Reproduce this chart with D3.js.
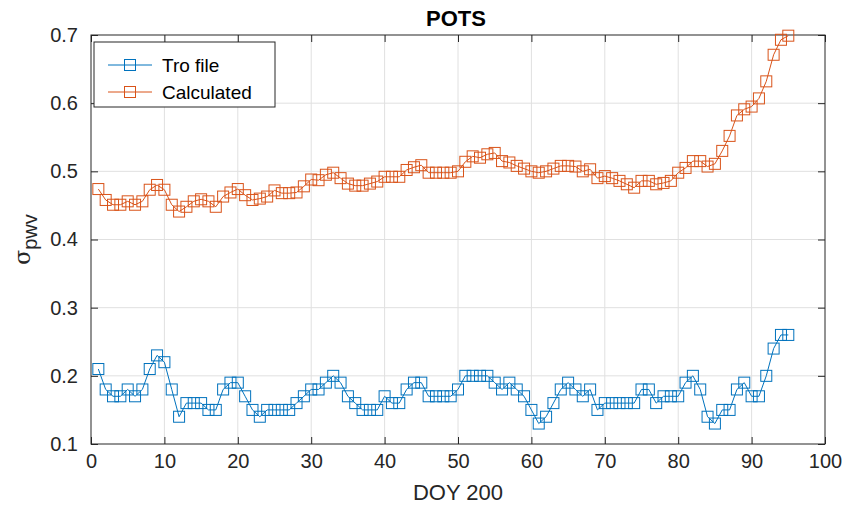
<!DOCTYPE html>
<html>
<head>
<meta charset="utf-8">
<script src="https://cdn.jsdelivr.net/npm/d3@7"></script>
<style>
  body { margin: 0; background: #fff; }
  svg { font-family: "Liberation Sans", Arial, sans-serif; }
</style>
</head>
<body>
<svg id="chart" width="854" height="505"></svg>
<script>
// day index along DOY 200
const days = d3.range(1, 96);

const troFile = [
  0.21, 0.18, 0.17, 0.17, 0.18, 0.17, 0.18, 0.21, 0.23, 0.22,
  0.18, 0.14, 0.16, 0.16, 0.16, 0.15, 0.15, 0.18, 0.19, 0.19,
  0.17, 0.15, 0.14, 0.15, 0.15, 0.15, 0.15, 0.16, 0.17, 0.18,
  0.18, 0.19, 0.20, 0.19, 0.17, 0.16, 0.15, 0.15, 0.15, 0.17,
  0.16, 0.16, 0.18, 0.19, 0.19, 0.17, 0.17, 0.17, 0.17, 0.18,
  0.20, 0.20, 0.20, 0.20, 0.19, 0.18, 0.19, 0.18, 0.17, 0.15,
  0.13, 0.14, 0.16, 0.18, 0.19, 0.18, 0.17, 0.18, 0.15, 0.16,
  0.16, 0.16, 0.16, 0.16, 0.18, 0.18, 0.16, 0.17, 0.17, 0.17,
  0.19, 0.20, 0.18, 0.14, 0.13, 0.15, 0.15, 0.18, 0.19, 0.17,
  0.17, 0.20, 0.24, 0.26, 0.26
];

const calculated = [
  0.474, 0.458, 0.451, 0.451, 0.456, 0.451, 0.456, 0.473, 0.480, 0.473,
  0.451, 0.441, 0.448, 0.456, 0.459, 0.456, 0.448, 0.463, 0.469, 0.474,
  0.465, 0.458, 0.460, 0.463, 0.472, 0.468, 0.468, 0.469, 0.478, 0.488,
  0.487, 0.495, 0.498, 0.490, 0.482, 0.479, 0.479, 0.482, 0.485, 0.492,
  0.492, 0.492, 0.502, 0.506, 0.509, 0.498, 0.498, 0.498, 0.498, 0.500,
  0.514, 0.522, 0.520, 0.525, 0.527, 0.515, 0.513, 0.508, 0.504, 0.500,
  0.498, 0.500, 0.504, 0.508, 0.508, 0.507, 0.500, 0.503, 0.490, 0.493,
  0.490, 0.486, 0.481, 0.476, 0.486, 0.486, 0.481, 0.483, 0.486, 0.498,
  0.505, 0.515, 0.515, 0.507, 0.511, 0.530, 0.552, 0.582, 0.591, 0.595,
  0.607, 0.632, 0.671, 0.693, 0.699
];

const xTicks = d3.range(0, 101, 10);
const yTicks = [0.1, 0.2, 0.3, 0.4, 0.5, 0.6, 0.7];

const seriesNames = ["Tro file", "Calculated"];
const seriesColors = ["#0072BD", "#D95319"];

const margin = {top: 35, right: 29, bottom: 61, left: 91};
const svg = d3.select("#chart");
const width = +svg.attr("width") - margin.left - margin.right;
const height = +svg.attr("height") - margin.top - margin.bottom;

const x = d3.scaleLinear().domain([0, 100]).range([0, width]);
const y = d3.scaleLinear().domain([0.1, 0.7]).range([height, 0]);

const g = svg.append("g").attr("transform", "translate(" + margin.left + "," + margin.top + ")");

// grid
g.append("g").selectAll("line").data(xTicks.slice(1, -1)).join("line")
  .attr("x1", d => x(d)).attr("x2", d => x(d))
  .attr("y1", 0).attr("y2", height)
  .attr("stroke", "#e0e0e0").attr("stroke-width", 1);
g.append("g").selectAll("line").data(yTicks.slice(1, -1)).join("line")
  .attr("y1", d => y(d)).attr("y2", d => y(d))
  .attr("x1", 0).attr("x2", width)
  .attr("stroke", "#e0e0e0").attr("stroke-width", 1);

// axes (ticks pointing inward, MATLAB style)
const axisColor = "#262626";
function styleAxis(sel, showText) {
  sel.select(".domain").remove();
  sel.selectAll(".tick line").attr("stroke", axisColor);
  sel.selectAll(".tick text")
    .attr("fill", axisColor)
    .style("font-size", "20px")
    .style("display", showText ? null : "none");
}

g.append("g").attr("transform", "translate(0," + height + ")")
  .call(d3.axisBottom(x).tickValues(xTicks).tickSizeInner(-7).tickSizeOuter(0).tickPadding(10))
  .call(s => styleAxis(s, true));
g.append("g")
  .call(d3.axisTop(x).tickValues(xTicks).tickSizeInner(-7).tickSizeOuter(0))
  .call(s => styleAxis(s, false));
g.append("g")
  .call(d3.axisLeft(y).tickValues(yTicks).tickFormat(d3.format(".1f")).tickSizeInner(-7).tickSizeOuter(0).tickPadding(13))
  .call(s => styleAxis(s, true));
g.append("g").attr("transform", "translate(" + width + ",0)")
  .call(d3.axisRight(y).tickValues(yTicks).tickSizeInner(-7).tickSizeOuter(0))
  .call(s => styleAxis(s, false));

g.append("rect")
  .attr("width", width).attr("height", height)
  .attr("fill", "none").attr("stroke", axisColor).attr("stroke-width", 1);

// series
const allSeries = [troFile, calculated];
const line = d3.line().x((d, i) => x(days[i])).y(d => y(d));
const markerSize = 11;

allSeries.forEach((vals, k) => {
  const sg = g.append("g");
  sg.append("path").datum(vals)
    .attr("d", line)
    .attr("fill", "none")
    .attr("stroke", seriesColors[k])
    .attr("stroke-width", 1);
  sg.selectAll("rect").data(vals).join("rect")
    .attr("x", (d, i) => x(days[i]) - markerSize / 2)
    .attr("y", d => y(d) - markerSize / 2)
    .attr("width", markerSize).attr("height", markerSize)
    .attr("fill", "none")
    .attr("stroke", seriesColors[k])
    .attr("stroke-width", 1);
});

// legend
const legend = g.append("g").attr("transform", "translate(3,7)");
legend.append("rect")
  .attr("width", 181).attr("height", 65)
  .attr("fill", "#fff").attr("stroke", axisColor).attr("stroke-width", 1);
seriesNames.forEach((name, k) => {
  const ly = 23 + k * 27;
  legend.append("line")
    .attr("x1", 14).attr("x2", 58).attr("y1", ly).attr("y2", ly)
    .attr("stroke", seriesColors[k]).attr("stroke-width", 1);
  legend.append("rect")
    .attr("x", 36 - markerSize / 2).attr("y", ly - markerSize / 2)
    .attr("width", markerSize).attr("height", markerSize)
    .attr("fill", "none").attr("stroke", seriesColors[k]);
  legend.append("text")
    .attr("x", 68).attr("y", ly + 7)
    .attr("fill", "#000")
    .style("font-size", "19px")
    .text(name);
});

// title and labels
svg.append("text")
  .attr("x", margin.left + width / 2 - 2).attr("y", 26)
  .attr("text-anchor", "middle")
  .style("font-size", "22px").style("font-weight", "bold")
  .attr("fill", "#000")
  .text("POTS");

svg.append("text")
  .attr("x", margin.left + width / 2).attr("y", 500)
  .attr("text-anchor", "middle")
  .style("font-size", "22px")
  .attr("fill", axisColor)
  .text("DOY 200");

const yl = svg.append("text")
  .attr("transform", "translate(30," + (margin.top + height / 2) + ") rotate(-90)")
  .attr("text-anchor", "middle")
  .attr("fill", axisColor)
  .style("font-size", "22px");
yl.append("tspan").style("font-family", "'DejaVu Serif', serif").text("σ");
yl.append("tspan").attr("dy", 7).style("font-size", "20px").text("pwv");
</script>
</body>
</html>
